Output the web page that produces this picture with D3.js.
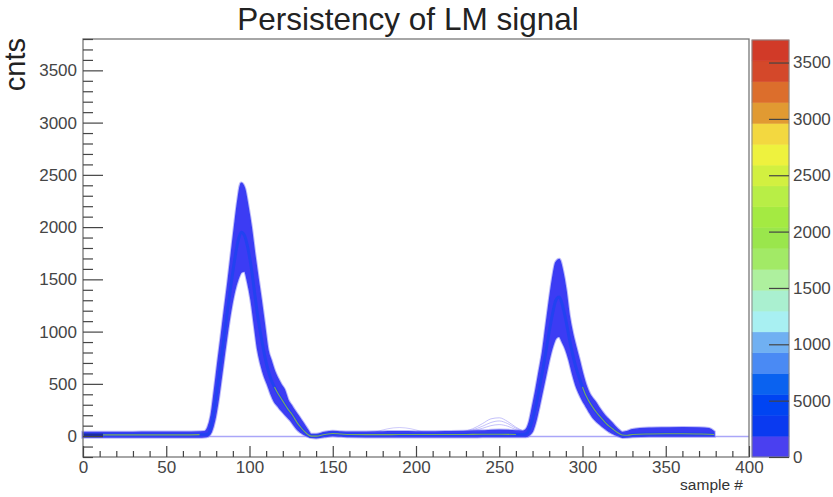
<!DOCTYPE html>
<html>
<head>
<meta charset="utf-8">
<script src="https://cdn.jsdelivr.net/npm/d3@7"></script>
<style>
  body { margin: 0; background: #fff; }
  svg { display: block; font-family: "Liberation Sans", Arial, Helvetica, sans-serif; }
  .tick text { fill: #454545; font-size: 17px; }
  .tick line { stroke: #444; stroke-width: 1.2; }
</style>
</head>
<body>
<div id="chart"></div>
<script>
// persistency envelope (sample #, cnts)
const samples = [
  0, 10, 20, 30, 40, 50, 60, 70, 73,
  75, 77, 79, 81, 83, 85, 87, 89, 91, 93, 95, 97, 99, 101, 103, 105, 107, 109, 111, 113, 115,
  117, 119, 121, 123, 125, 127, 129, 131, 133, 135, 137,
  140, 145, 150, 155, 160, 170, 180, 190, 200, 210, 220, 230, 240, 250, 260,
  264, 266, 268, 270, 272, 274, 276, 278, 280, 282, 284, 286, 288, 290, 292, 294, 296, 298, 300,
  302, 304, 306, 308, 310, 312, 314, 316, 318, 320, 322, 324,
  327, 330, 340, 350, 360, 370, 376, 379
];
const upperCnts = [
  35, 35, 35, 35, 38, 38, 38, 40, 42,
  80, 200, 440, 700, 950, 1210, 1460, 1730, 2000, 2250, 2420, 2370, 2200, 2000, 1750, 1520, 1300, 1060, 824, 720, 620,
  550, 490, 440, 345, 295, 245, 200, 153, 105, 57, 15,
  15, 35, 45, 40, 38, 38, 40, 42, 40, 40, 42, 45, 50, 55, 50,
  45, 60, 130, 280, 440, 620, 800, 1040, 1280, 1500, 1660, 1690, 1580, 1400, 1150, 980, 850, 728, 600,
  490, 410, 360, 320, 270, 225, 185, 153, 120, 85, 55, 35,
  45, 60, 75, 78, 80, 78, 70, 40
];
const lowerCnts = [
  -8, -8, -8, -8, -8, -8, -8, -8, -6,
  0, 40, 150, 330, 560, 800, 1030, 1230, 1390, 1500, 1570, 1580, 1470, 1300, 1060, 824, 680, 570, 490, 400, 330,
  290, 250, 215, 180, 145, 100, 60, 35, 15, 0, -12,
  -15, -5, 5, 0, -5, -6, -6, -6, -6, -6, -6, -6, -5, -4, -5,
  -5, -5, 10, 50, 150, 290, 440, 590, 740, 860, 940, 955, 900, 830, 728, 600, 490, 410, 345,
  290, 235, 185, 150, 120, 92, 68, 45, 28, 12, 0, -10,
  -8, -5, 0, 0, 0, 0, 0, 0
];
const modeCnts = [
  12, 12, 12, 12, 12, 12, 12, 14, 15,
  20, 100, 280, 500, 740, 990, 1230, 1460, 1680, 1860, 1950, 1920, 1800, 1620, 1380, 1140, 950, 780, 640, 540, 470,
  410, 360, 310, 260, 220, 170, 120, 80, 45, 15, 0,
  0, 15, 25, 20, 15, 14, 14, 15, 15, 15, 15, 16, 18, 18, 16,
  15, 20, 60, 160, 290, 450, 620, 810, 1000, 1170, 1300, 1330, 1250, 1110, 940, 790, 660, 560, 470,
  390, 330, 280, 235, 195, 160, 125, 95, 70, 45, 25, 10,
  8, 15, 20, 22, 22, 20, 18, 15
];

// a few faint stray traces
const bumpSamples = [228, 234, 240, 245, 250, 255, 260, 265];
const bumpA = [42, 70, 120, 165, 175, 140, 85, 45];
const bumpB = [42, 60, 95, 130, 145, 120, 75, 45];
const bumpC = [40, 52, 75, 100, 110, 95, 62, 42];
const bump2Samples = [176, 183, 190, 197, 204];
const bumpD = [40, 70, 82, 70, 40];
const zeroSamples = [0, 400];
const zeroCnts = [-5, -5];
const startSamples = [0, 12];
const startCnts = [8, 8];

// axes and palette
const xTicks = [0, 50, 100, 150, 200, 250, 300, 350, 400];
const yTicks = [0, 500, 1000, 1500, 2000, 2500, 3000, 3500];
const zTicks = [0, 500, 1000, 1500, 2000, 2500, 3000, 3500];
const zLabels = ["0", "5000", "1000", "1500", "2000", "2500", "3000", "3500"];
const zMax = 3700;
const palette = [
  "#4a40f0", "#0a3af0", "#0044f2", "#0a62f0", "#4a8af4", "#70b0f2", "#a8f0f2", "#aaf0d0", "#aef09e", "#a2ea66",
  "#9ae64c", "#a4ea42", "#b8ee46", "#d2f040", "#eef23e", "#f3d840", "#e19a32", "#dc6e2c", "#d4482a", "#d13a28"
];

const width = 833, height = 497;
const frame = { left: 83, right: 749, top: 39, bottom: 457 };

const svg = d3.select("#chart").append("svg")
    .attr("width", width)
    .attr("height", height);

const x = d3.scaleLinear().domain([0, 400]).range([frame.left, frame.right]);
const y = d3.scaleLinear().domain([-200, 3800]).range([frame.bottom, frame.top]);
const z = d3.scaleLinear().domain([0, zMax]).range([457, 40]);

const pts = samples.map((s, i) => ({ s: s, hi: upperCnts[i], lo: lowerCnts[i], mid: modeCnts[i] }));

const plot = svg.append("g");

// faint zero line
const line = d3.line().x(d => x(d[0])).y(d => y(d[1])).curve(d3.curveMonotoneX);
plot.append("path")
    .attr("d", line(d3.zip(zeroSamples, zeroCnts)))
    .attr("fill", "none").attr("stroke", "#aaa6f8").attr("stroke-width", 1.5);

// faint stray traces
[bumpA, bumpB, bumpC].forEach(b => {
  plot.append("path")
      .attr("d", line(d3.zip(bumpSamples, b)))
      .attr("fill", "none").attr("stroke", "#9d98f6").attr("stroke-width", 1).attr("opacity", 0.6);
});
plot.append("path")
    .attr("d", line(d3.zip(bump2Samples, bumpD)))
    .attr("fill", "none").attr("stroke", "#9d98f6").attr("stroke-width", 1).attr("opacity", 0.5);

// envelope of all traces
const area = d3.area()
    .x(d => x(d.s))
    .y0(d => y(d.lo))
    .y1(d => y(d.hi))
    .curve(d3.curveMonotoneX);

plot.append("path")
    .attr("d", area(pts))
    .attr("fill", "none")
    .attr("stroke", "#8480f6")
    .attr("stroke-width", 3.5)
    .attr("opacity", 0.55);

plot.append("path")
    .attr("d", area(pts))
    .attr("fill", "#3c3cf4")
    .attr("stroke", "#3a3ef2")
    .attr("stroke-width", 1.5);

// densest trace
const modeLine = d3.line().x(d => x(d.s)).y(d => y(d.mid)).curve(d3.curveMonotoneX);
plot.append("path")
    .attr("d", modeLine(pts))
    .attr("fill", "none").attr("stroke", "#1c44f0").attr("stroke-width", 3).attr("opacity", 0.8);
plot.append("path")
    .attr("d", modeLine.defined(d => d.mid < 480 && !(d.s > 72 && d.s < 96) && !(d.s > 262 && d.s < 286))(pts))
    .attr("fill", "none").attr("stroke", "#7fa860").attr("stroke-width", 1.1);

plot.append("path")
    .attr("d", line(d3.zip(startSamples, startCnts)))
    .attr("fill", "none").attr("stroke", "#1e2d9e").attr("stroke-width", 3.5);

// frame
svg.append("rect")
    .attr("x", frame.left).attr("y", frame.top)
    .attr("width", frame.right - frame.left).attr("height", frame.bottom - frame.top)
    .attr("fill", "none").attr("stroke", "#777").attr("stroke-width", 1.3);

// y axis (ticks inside)
svg.append("g")
    .attr("transform", `translate(${frame.left},0)`)
    .call(d3.axisLeft(y).tickValues(d3.range(-200, 3801, 100).filter(v => v % 500 != 0)).tickSize(-10).tickFormat(""))
    .call(g => g.select(".domain").remove());
svg.append("g")
    .attr("transform", `translate(${frame.left},0)`)
    .call(d3.axisLeft(y).tickValues(yTicks).tickSize(-20).tickPadding(6).tickFormat(d3.format("d")))
    .call(g => g.select(".domain").remove());

// x axis
svg.append("g")
    .attr("transform", `translate(0,${frame.bottom})`)
    .call(d3.axisBottom(x).tickValues(d3.range(0, 401, 10).filter(v => v % 50 != 0)).tickSize(-6).tickFormat(""))
    .call(g => g.select(".domain").remove());
svg.append("g")
    .attr("transform", `translate(0,${frame.bottom})`)
    .call(d3.axisBottom(x).tickValues(xTicks).tickSize(-11).tickPadding(4).tickFormat(d3.format("d")))
    .call(g => g.select(".domain").remove());

// colour bar
const bandEdges = d3.range(palette.length + 1).map(i => i * zMax / palette.length);
svg.append("g").selectAll("rect").data(palette).enter().append("rect")
    .attr("x", 752)
    .attr("width", 37)
    .attr("y", (d, i) => z(bandEdges[i + 1]))
    .attr("height", (d, i) => z(bandEdges[i]) - z(bandEdges[i + 1]))
    .attr("fill", d => d)
    .attr("stroke", d => d)
    .attr("stroke-width", 0.5);
svg.append("rect")
    .attr("x", 752).attr("y", 40).attr("width", 37).attr("height", 417)
    .attr("fill", "none").attr("stroke", "#888").attr("stroke-width", 1);
svg.append("g")
    .attr("transform", "translate(789,0)")
    .call(d3.axisRight(z).tickValues(zTicks).tickSize(-20).tickPadding(4).tickFormat((d, i) => zLabels[i]))
    .call(g => g.select(".domain").remove())
    .call(g => g.selectAll(".tick line").attr("stroke", "#222"));

// titles
svg.append("text")
    .attr("x", 408).attr("y", 30)
    .attr("text-anchor", "middle")
    .attr("font-size", 31.5)
    .attr("fill", "#222")
    .text("Persistency of LM signal");

svg.append("text")
    .attr("transform", "translate(25,38) rotate(-90)")
    .attr("text-anchor", "end")
    .attr("font-size", 29)
    .attr("fill", "#222")
    .text("cnts");

svg.append("text")
    .attr("x", 743).attr("y", 490)
    .attr("text-anchor", "end")
    .attr("font-size", 15.5)
    .attr("fill", "#333")
    .text("sample #");
</script>
</body>
</html>
